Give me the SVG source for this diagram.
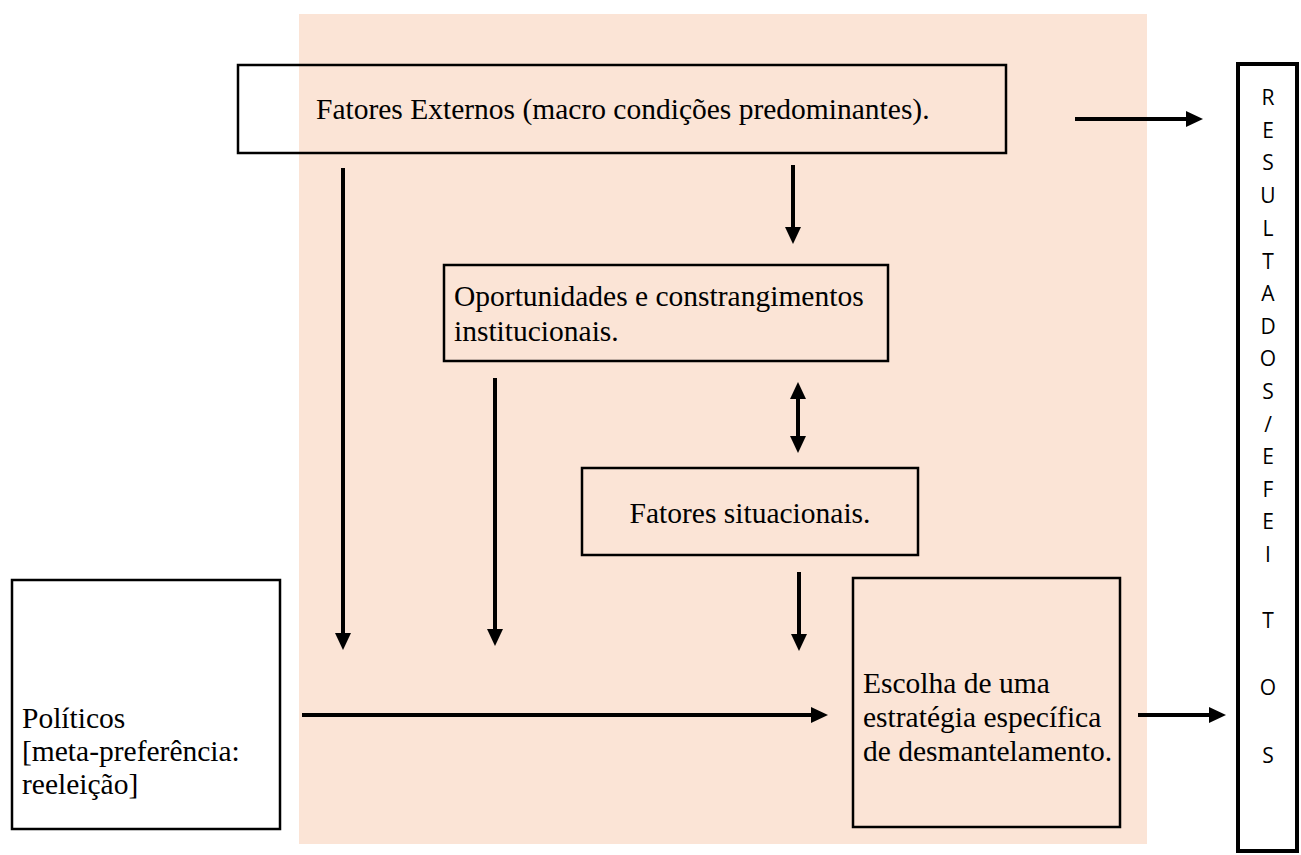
<svg xmlns="http://www.w3.org/2000/svg" width="1301" height="855" viewBox="0 0 1301 855">
<style>
.box{fill:none;stroke:#000;stroke-width:2.5}
.t{font-family:"Liberation Serif","Times New Roman",serif;font-size:29.5px;fill:#000}
.r{font-family:"Open Sans","Liberation Sans",sans-serif;font-size:21px;fill:#000;text-anchor:middle}
.c{stroke:#000;stroke-width:4;fill:none}
</style>
<defs>
<marker id="ah" markerUnits="userSpaceOnUse" markerWidth="17" markerHeight="16" refX="1" refY="8" orient="auto-start-reverse" viewBox="0 0 17 16">
<path d="M0,0 L17,8 L0,16 z" fill="#000"/>
</marker>
</defs>
<rect x="0" y="0" width="1301" height="855" fill="#fff"/>
<rect x="299" y="14" width="848" height="830" fill="#FBE4D6"/>
<g id="fatores-externos">
<rect class="box" x="238" y="65" width="768" height="88"/>
<text class="t" x="316" y="119">Fatores Externos (macro condições predominantes).</text>
</g>
<g id="oportunidades">
<rect class="box" x="444" y="265" width="444" height="96"/>
<text class="t" x="454" y="306">Oportunidades e constrangimentos</text>
<text class="t" x="454" y="341">institucionais.</text>
</g>
<g id="fatores-situacionais">
<rect class="box" x="582" y="468" width="336" height="87"/>
<text class="t" x="750" y="523" text-anchor="middle">Fatores situacionais.</text>
</g>
<g id="politicos">
<rect class="box" x="12" y="580" width="268" height="249"/>
<text class="t" x="22" y="728">Políticos</text>
<text class="t" x="22" y="761">[meta-preferência:</text>
<text class="t" x="22" y="794">reeleição]</text>
</g>
<g id="escolha">
<rect class="box" x="853" y="578" width="267" height="249"/>
<text class="t" x="863" y="693">Escolha de uma</text>
<text class="t" x="863" y="727">estratégia específica</text>
<text class="t" x="863" y="761">de desmantelamento.</text>
</g>
<g id="resultados">
<rect x="1238" y="64" width="59" height="787" fill="none" stroke="#000" stroke-width="4"/>
<text class="r" x="1268" y="105">R</text>
<text class="r" x="1268" y="138">E</text>
<text class="r" x="1268" y="170">S</text>
<text class="r" x="1268" y="203">U</text>
<text class="r" x="1268" y="236">L</text>
<text class="r" x="1268" y="269">T</text>
<text class="r" x="1268" y="301">A</text>
<text class="r" x="1268" y="334">D</text>
<text class="r" x="1268" y="366">O</text>
<text class="r" x="1268" y="399">S</text>
<text class="r" x="1268" y="432">/</text>
<text class="r" x="1268" y="464">E</text>
<text class="r" x="1268" y="497">F</text>
<text class="r" x="1268" y="529">E</text>
<text class="r" x="1268" y="562">I</text>
<text class="r" x="1268" y="628">T</text>
<text class="r" x="1268" y="695">O</text>
<text class="r" x="1268" y="763">S</text>
</g>
<g id="connectors">
<line class="c" x1="1075" y1="119" x2="1187" y2="119" marker-end="url(#ah)"/>
<line class="c" x1="343" y1="168" x2="343" y2="634" marker-end="url(#ah)"/>
<line class="c" x1="793" y1="165" x2="793" y2="228" marker-end="url(#ah)"/>
<line class="c" x1="495" y1="378" x2="495" y2="630" marker-end="url(#ah)"/>
<line class="c" x1="798" y1="398" x2="798" y2="437" marker-start="url(#ah)" marker-end="url(#ah)"/>
<line class="c" x1="799" y1="572" x2="799" y2="635" marker-end="url(#ah)"/>
<line class="c" x1="302" y1="715" x2="812" y2="715" marker-end="url(#ah)"/>
<line class="c" x1="1138" y1="715" x2="1210" y2="715" marker-end="url(#ah)"/>
</g>
</svg>
